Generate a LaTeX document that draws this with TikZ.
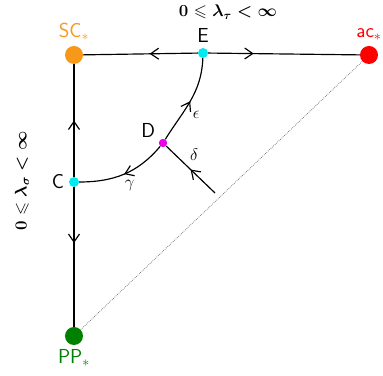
\documentclass[tikz,border=0pt]{standalone}
\usepackage{amsmath}
\usepackage{amssymb}
\usepackage{tikz}
\usetikzlibrary{arrows.meta, positioning, decorations.markings}

\definecolor{ptorange}{RGB}{247,152,24}
\definecolor{ptred}{RGB}{255,0,0}
\definecolor{ptgreen}{RGB}{0,128,0}
\definecolor{ptcyan}{RGB}{0,235,240}
\definecolor{ptmagenta}{RGB}{235,0,235}

\begin{document}
\begin{tikzpicture}[
x=0.03cm, y=-0.03cm,
every node/.style={font=\LARGE\sffamily},
bigdot/.style={
    circle,
    fill=#1,
    minimum size=0.54cm,
    inner sep=0pt
},
smalldot/.style={
    circle,
    fill=#1,
    minimum size=0.3cm,
    inner sep=0pt
},
flow/.style={
    line width=1pt,
    postaction={decorate},
    decoration={markings,
        mark=at position #1 with {\arrow{Straight Barb[length=2.4mm,width=3.3mm]}}}
}
]

\useasboundingbox (0,0) rectangle (383,376);

% fixed points
\node (sc) [bigdot=ptorange] at (74,55) {};
\node (ac) [bigdot=ptred] at (369,55) {};
\node (pp) [bigdot=ptgreen] at (74,336) {};

% saddles on the boundary and inside
\node (e) [smalldot=ptcyan] at (203,53) {};
\node (d) [smalldot=ptmagenta, minimum size=0.25cm] at (163,143) {};
\node (c) [smalldot=ptcyan] at (74,182) {};
\coordinate (src) at (215,193);

\node [ptorange, above=0.02cm of sc] {SC$_*$};
\node [ptred, above=0.02cm of ac] {ac$_*$};
\node [ptgreen, below=0cm of pp] {PP$_*$};
\node [above=0.02cm of e] {E};
\node [above left=-0.05cm and 0.02cm of d] {D};
\node [left=0.02cm of c] {C};

\node [font=\Large\boldmath] at (228,12) {$0 \leqslant \lambda_\tau < \infty$};
\node [font=\Large\boldmath, rotate=90] at (22,181) {$0 \leqslant \lambda_\sigma < \infty$};

% boundary flows
\draw [flow=0.42] (e) -- (sc);
\draw [flow=0.3] (e) -- (ac);
\draw [flow=0.5] (c) -- (sc);
\draw [flow=0.4] (c) -- (pp);

% interior flows
\draw [flow=0.5] (d) to[out=58, in=-92] node[right, pos=0.3, xshift=6pt, font=\Large] {$\epsilon$} (e);
\draw [flow=0.5] (d) to[out=-130, in=0] node[below right, pos=0.55, font=\Large] {$\gamma$} (c);
\draw [flow=0.5] (src) -- node[above right, pos=0.6, font=\Large] {$\delta$} (d);

\draw [black!60, densely dotted, line width=0.6pt] (pp) -- (ac);

\end{tikzpicture}
\end{document}
